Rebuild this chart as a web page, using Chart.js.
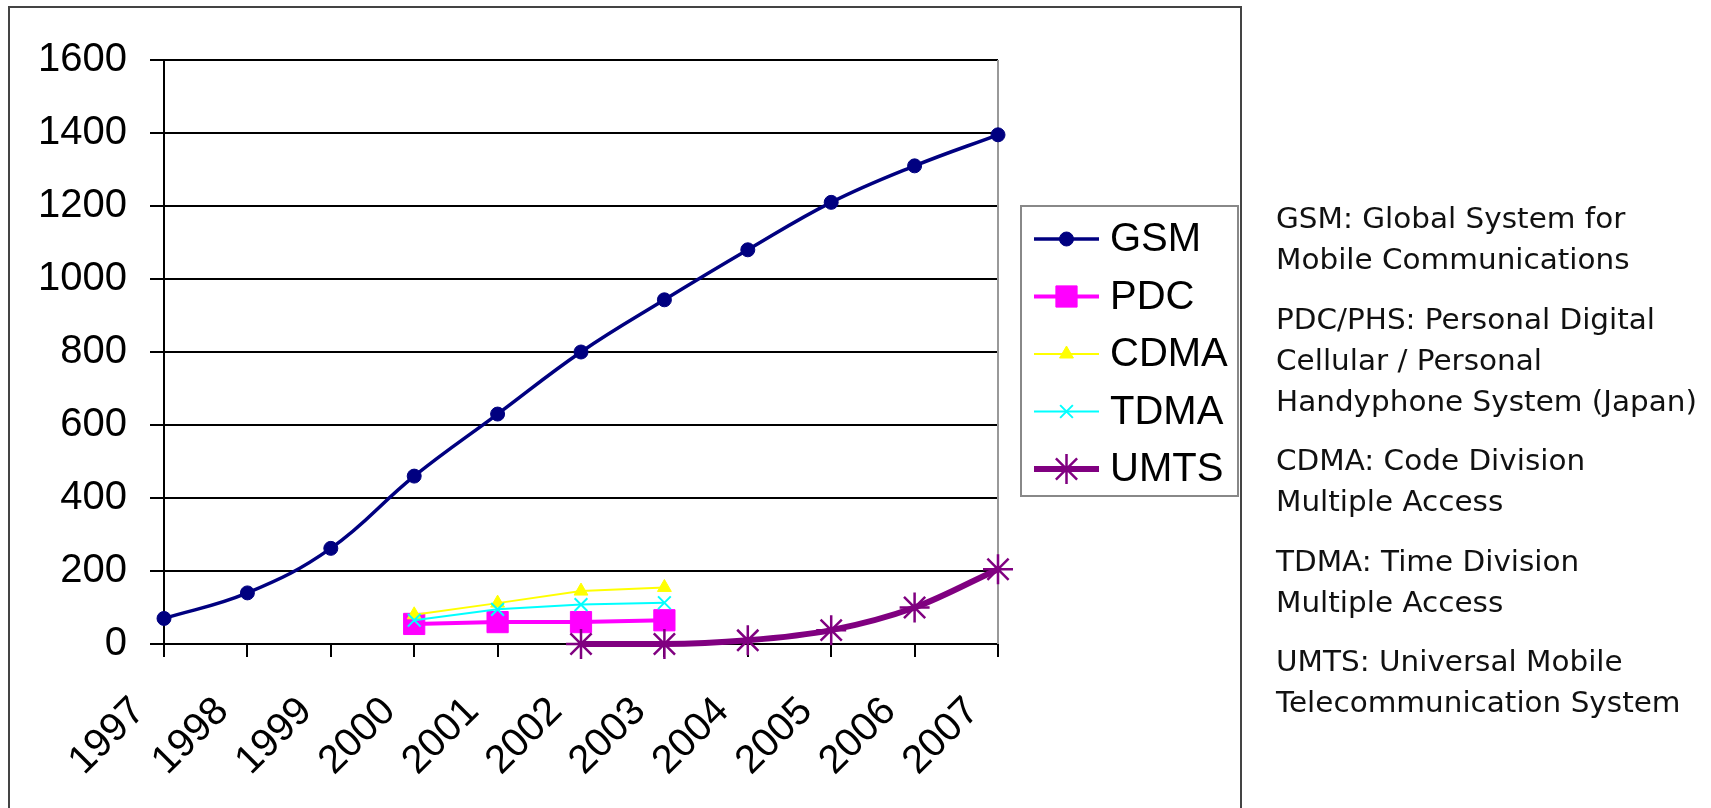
<!DOCTYPE html>
<html>
<head>
<meta charset="utf-8">
<script src="https://cdn.jsdelivr.net/npm/chart.js@4/dist/chart.umd.min.js"></script>
<style>
  html, body { margin: 0; padding: 0; background: #fff; overflow: hidden; }
  #frame { position: absolute; left: 8px; top: 6px; width: 1234px; height: 840px; border: 2px solid #444; box-sizing: border-box; }
  #wrap { position: absolute; left: 0; top: 0; width: 1711px; height: 808px; }
  #notes { position: absolute; left: 1276px; top: 198px; font-family: "DejaVu Sans", Verdana, sans-serif; font-size: 29px; color: #111; transform-origin: 0 0; }
  #notes p { margin: 0 0 18.5px 0; line-height: 41px; white-space: nowrap; }
</style>
</head>
<body>
<div id="frame"></div>
<div id="wrap"><canvas id="myLineChart"></canvas></div>
<div id="notes">
  <p>GSM: Global System for<br>Mobile Communications</p>
  <p>PDC/PHS: Personal Digital<br>Cellular / Personal<br><span id="longest">Handyphone System (Japan)</span></p>
  <p>CDMA: Code Division<br>Multiple Access</p>
  <p>TDMA: Time Division<br>Multiple Access</p>
  <p>UMTS: Universal Mobile<br>Telecommunication System</p>
</div>
<script>
const years = ['1997', '1998', '1999', '2000', '2001', '2002', '2003', '2004', '2005', '2006', '2007'];
const gsm  = [70, 140, 262, 460, 630, 800, 943, 1080, 1210, 1310, 1395];
const pdc  = [null, null, null, 55, 60, 60, 65, null, null, null, null];
const cdma = [null, null, null, 80, 112, 145, 155, null, null, null, null];
const tdma = [null, null, null, 65, 95, 108, 113, null, null, null, null];
const umts = [null, null, null, null, null, 0, 0, 10, 38, 100, 205];
const yTicks = [0, 200, 400, 600, 800, 1000, 1200, 1400, 1600];

const font = 'Arial, "Liberation Sans", sans-serif';

// stretch the notes column to the width it has in the picture
const notes = document.getElementById('notes');
const longest = document.getElementById('longest').getBoundingClientRect().width;
notes.style.transform = 'scaleX(' + (421 / longest) + ')';

// excel style legend: line segment with the marker in the middle
const boxLegend = {
    id: 'boxLegend',
    afterDraw(chart) {
        const ctx = chart.ctx;
        ctx.save();
        ctx.strokeStyle = '#888';
        ctx.lineWidth = 2;
        ctx.strokeRect(1021, 206, 217, 290);
        chart.data.datasets.forEach((ds, i) => {
            const y = 239 + i * 57.5;
            ctx.strokeStyle = ds.borderColor;
            ctx.lineWidth = ds.borderWidth;
            ctx.beginPath();
            ctx.moveTo(1034, y);
            ctx.lineTo(1099, y);
            ctx.stroke();
            ctx.fillStyle = ds.pointBackgroundColor;
            ctx.strokeStyle = ds.borderColor;
            ctx.lineWidth = ds.pointBorderWidth;
            Chart.helpers.drawPoint(ctx, { pointStyle: ds.pointStyle, radius: ds.pointRadius, rotation: 0, borderWidth: ds.pointBorderWidth }, 1066.5, y);
            ctx.fillStyle = '#000';
            ctx.font = '40px ' + font;
            ctx.textBaseline = 'middle';
            ctx.fillText(ds.label, 1110, y + 1);
        });
        ctx.restore();
    },
    beforeDatasetsDraw(chart) {
        const a = chart.chartArea;
        const ctx = chart.ctx;
        ctx.save();
        ctx.strokeStyle = '#999';
        ctx.lineWidth = 2;
        ctx.beginPath();
        ctx.moveTo(a.right, a.top);
        ctx.lineTo(a.right, a.bottom);
        ctx.stroke();
        ctx.restore();
    }
};

const lineItem = document.getElementById('myLineChart');
const config = {
    type: 'line',
    data: {
        labels: years,
        datasets: [
            { label: 'GSM', data: gsm, borderColor: '#000080', pointBackgroundColor: '#000080', borderWidth: 3.5,
              pointStyle: 'circle', pointRadius: 7, pointBorderWidth: 1, tension: 0.4, order: 5 },
            { label: 'PDC', data: pdc, borderColor: '#ff00ff', pointBackgroundColor: '#ff00ff', borderWidth: 4,
              pointStyle: 'rect', pointRadius: 15, pointBorderWidth: 1, tension: 0, order: 4 },
            { label: 'CDMA', data: cdma, borderColor: '#ffff00', pointBackgroundColor: '#ffff00', borderWidth: 2,
              pointStyle: 'triangle', pointRadius: 8, pointBorderWidth: 1, tension: 0, order: 3 },
            { label: 'TDMA', data: tdma, borderColor: '#00ffff', pointBackgroundColor: '#00ffff', borderWidth: 2,
              pointStyle: 'crossRot', pointRadius: 9, pointBorderWidth: 2, tension: 0, order: 2 },
            { label: 'UMTS', data: umts, borderColor: '#800080', pointBackgroundColor: '#800080', borderWidth: 6,
              pointStyle: 'star', pointRadius: 15, pointBorderWidth: 2.5, cubicInterpolationMode: 'monotone', order: 1 }
        ]
    },
    options: {
        responsive: true,
        maintainAspectRatio: false,
        animation: false,
        layout: { padding: { left: 0, top: 60, right: 713, bottom: 0 } },
        datasets: { line: { clip: false } },
        plugins: { legend: { display: false }, tooltip: { enabled: false } },
        scales: {
            x: {
                offset: false,
                afterFit(scale) { scale.height = 164; },
                grid: { drawOnChartArea: false, drawTicks: true, tickLength: 13, color: '#000', lineWidth: 2 },
                border: { display: true, color: '#000', width: 2 },
                ticks: { minRotation: 45, maxRotation: 45, padding: 31, labelOffset: -25, color: '#000',
                         font: { family: font, size: 40 } }
            },
            y: {
                min: 0,
                max: 1600,
                afterFit(scale) { scale.width = 164; },
                afterBuildTicks(scale) { scale.ticks = yTicks.map(v => ({ value: v })); },
                grid: { color: '#000', lineWidth: 2, tickLength: 14 },
                border: { display: true, color: '#000', width: 2 },
                ticks: { padding: 23, color: '#000', font: { family: font, size: 40 },
                         callback: (v) => String(v) }
            }
        }
    },
    plugins: [boxLegend]
};
const lineChart = new Chart(lineItem, config);
</script>
</body>
</html>
